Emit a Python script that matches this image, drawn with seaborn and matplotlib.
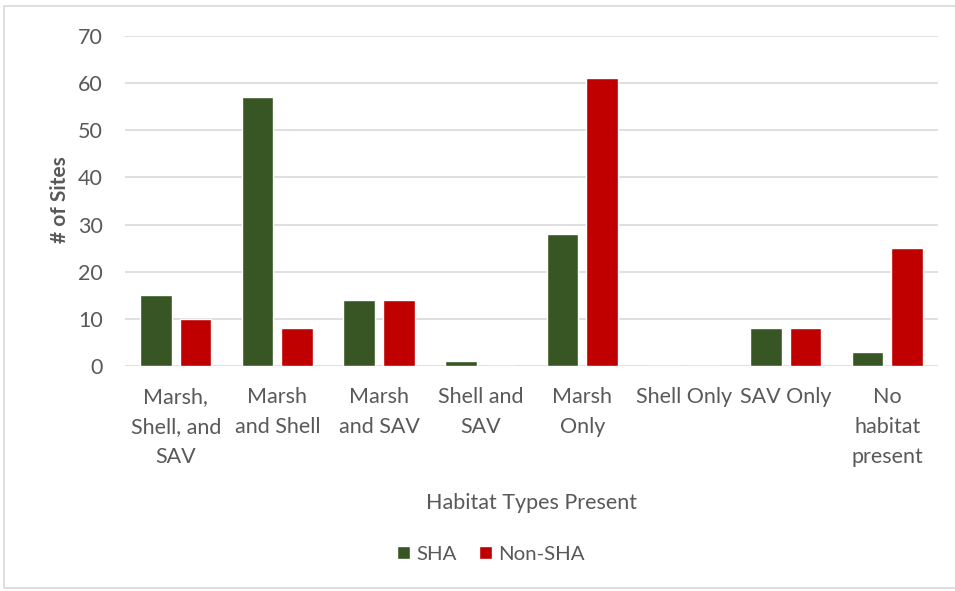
import matplotlib
matplotlib.use("Agg")
import matplotlib.pyplot as plt
import seaborn as sns
import pandas as pd
from matplotlib.patches import Rectangle

categories = ["Marsh,\nShell, and\nSAV", "Marsh\nand Shell", "Marsh\nand SAV", "Shell and\nSAV",
              "Marsh\nOnly", "Shell Only", "SAV Only", "No\nhabitat\npresent"]
sha = [15, 57, 14, 1, 28, 0, 8, 3]
non_sha = [10, 8, 14, 0, 61, 0, 8, 25]
series = ["SHA", "Non-SHA"]
colors = ["#375623", "#C00000"]

df = pd.DataFrame({
    "Habitat": categories * 2,
    "Sites": sha + non_sha,
    "Group": [series[0]] * len(categories) + [series[1]] * len(categories),
})

sns.set_theme(style="white")
plt.rcParams["font.family"] = ["Lato", "DejaVu Sans"]
text_color = "#595959"

fig = plt.figure(figsize=(9.55, 5.91), dpi=100)
ax = fig.add_axes([125 / 955, 1 - 366 / 591, (938 - 125) / 955, (366 - 36) / 591])

sns.barplot(data=df, x="Habitat", y="Sites", hue="Group", order=categories,
            hue_order=series, palette=colors, width=0.78, gap=0.2,
            saturation=1, ax=ax, legend=True, zorder=3)

ax.set_ylim(0, 70)
ax.set_yticks(range(0, 71, 10))
ax.yaxis.grid(True, color="#d9d9d9", linewidth=1.2, zorder=0)
ax.set_axisbelow(True)
for s in ax.spines.values():
    s.set_visible(False)
ax.tick_params(axis="both", length=0, colors=text_color, labelsize=15.5)
ax.tick_params(axis="y", pad=16)
ax.tick_params(axis="x", pad=15)
for lbl in ax.get_xticklabels():
    lbl.set_linespacing(1.62)
    lbl.set_verticalalignment("top")

ax.set_xlabel("")
ax.set_ylabel("")
fig.text(531 / 955, 1 - 503 / 591, "Habitat Types Present", fontsize=15.5, color=text_color,
         ha="center", va="center")
fig.text(60 / 955, 1 - 200 / 591, "# of Sites", fontsize=15, color=text_color,
         fontweight="bold", rotation=90, ha="center", va="center")

leg = ax.legend(loc="center", bbox_to_anchor=(491 / 955, 1 - 554 / 591), bbox_transform=fig.transFigure,
                ncol=2, frameon=False, fontsize=14.7, handlelength=0.65, handleheight=0.65,
                handletextpad=0.3, columnspacing=1.1)
for t in leg.get_texts():
    t.set_color(text_color)

fig.patches.append(Rectangle((4 / 955, 1 - 588 / 591), 1.0, (588 - 6) / 591,
                             transform=fig.transFigure, fill=False,
                             edgecolor="#d9d9d9", linewidth=1.2))

fig.savefig("out.png", dpi=100, facecolor="white")
